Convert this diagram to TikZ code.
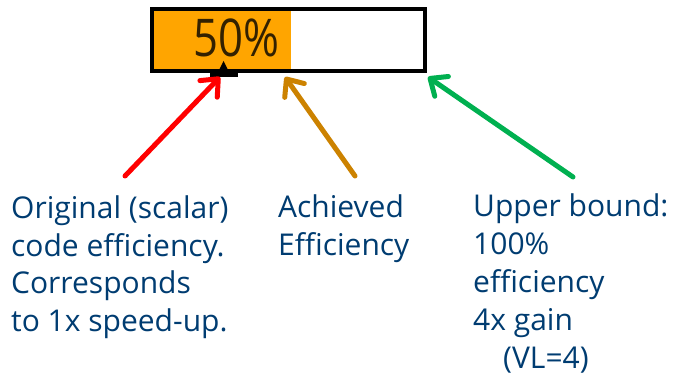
\documentclass[tikz,border=0pt]{standalone}
\usepackage{fontspec}
\setmainfont{Open Sans}
\usetikzlibrary{arrows.meta}

\definecolor{barorange}{RGB}{255,165,0}
\definecolor{txtblue}{RGB}{0,60,113}
\definecolor{ptrred}{RGB}{255,0,0}
\definecolor{ptrbrown}{RGB}{204,130,0}
\definecolor{ptrgreen}{RGB}{0,176,80}

\tikzset{
    label text/.style={anchor=base west, inner sep=0pt, align=left,
        font=\fontsize{30}{37.8}\selectfont, text=txtblue},
    pointer/.style={line width=5pt, line cap=round,
        -{Straight Barb[round, length=14pt, width=24pt]}},
}

\begin{document}
\begin{tikzpicture}[x=1pt, y=-1pt]
    \useasboundingbox (0,0) rectangle (675,374);

    %% Efficiency bar
    \fill[barorange] (152,9.3) rectangle (291,70.7);
    \node[draw, line width=4pt, minimum width=273.3pt, minimum height=61.4pt,
        inner sep=0pt] (bar) at (288.65,40) {};
    \node[anchor=base, inner sep=0pt, xscale=0.84, text=black!80!barorange,
        font=\fontsize{52}{52}\selectfont] (pct) at (236,57) {50\%};

    %% Marker for the scalar level
    \fill (218.5,71) -- (223.5,61) -- (228.5,71) -- cycle;
    \fill (210,71) rectangle (238,77);

    %% Labels (anchored on the baseline of the last line)
    \node[label text] (orig) at (11,331.7)
        {Original (scalar)\\code efficiency.\\Corresponds\\to 1x speed-up.};
    \node[label text] (achieved) at (278,255.5)
        {Achieved\\Efficiency};
    \node[label text] (upper) at (473,368)
        {Upper bound:\\100\%\\efficiency\\4x gain\\\hspace*{30pt}(VL=4)};

    %% Pointers
    \coordinate (origtail) at (125,176);
    \coordinate (origtip) at (220,77);
    \coordinate (achtail) at (355,176);
    \coordinate (achtip) at (285,77);
    \coordinate (uptail) at (573,177);
    \coordinate (uptip) at (428,77);
    \draw[pointer, ptrred] (origtail) -- (origtip);
    \draw[pointer, ptrbrown] (achtail) -- (achtip);
    \draw[pointer, ptrgreen] (uptail) -- (uptip);
\end{tikzpicture}
\end{document}
